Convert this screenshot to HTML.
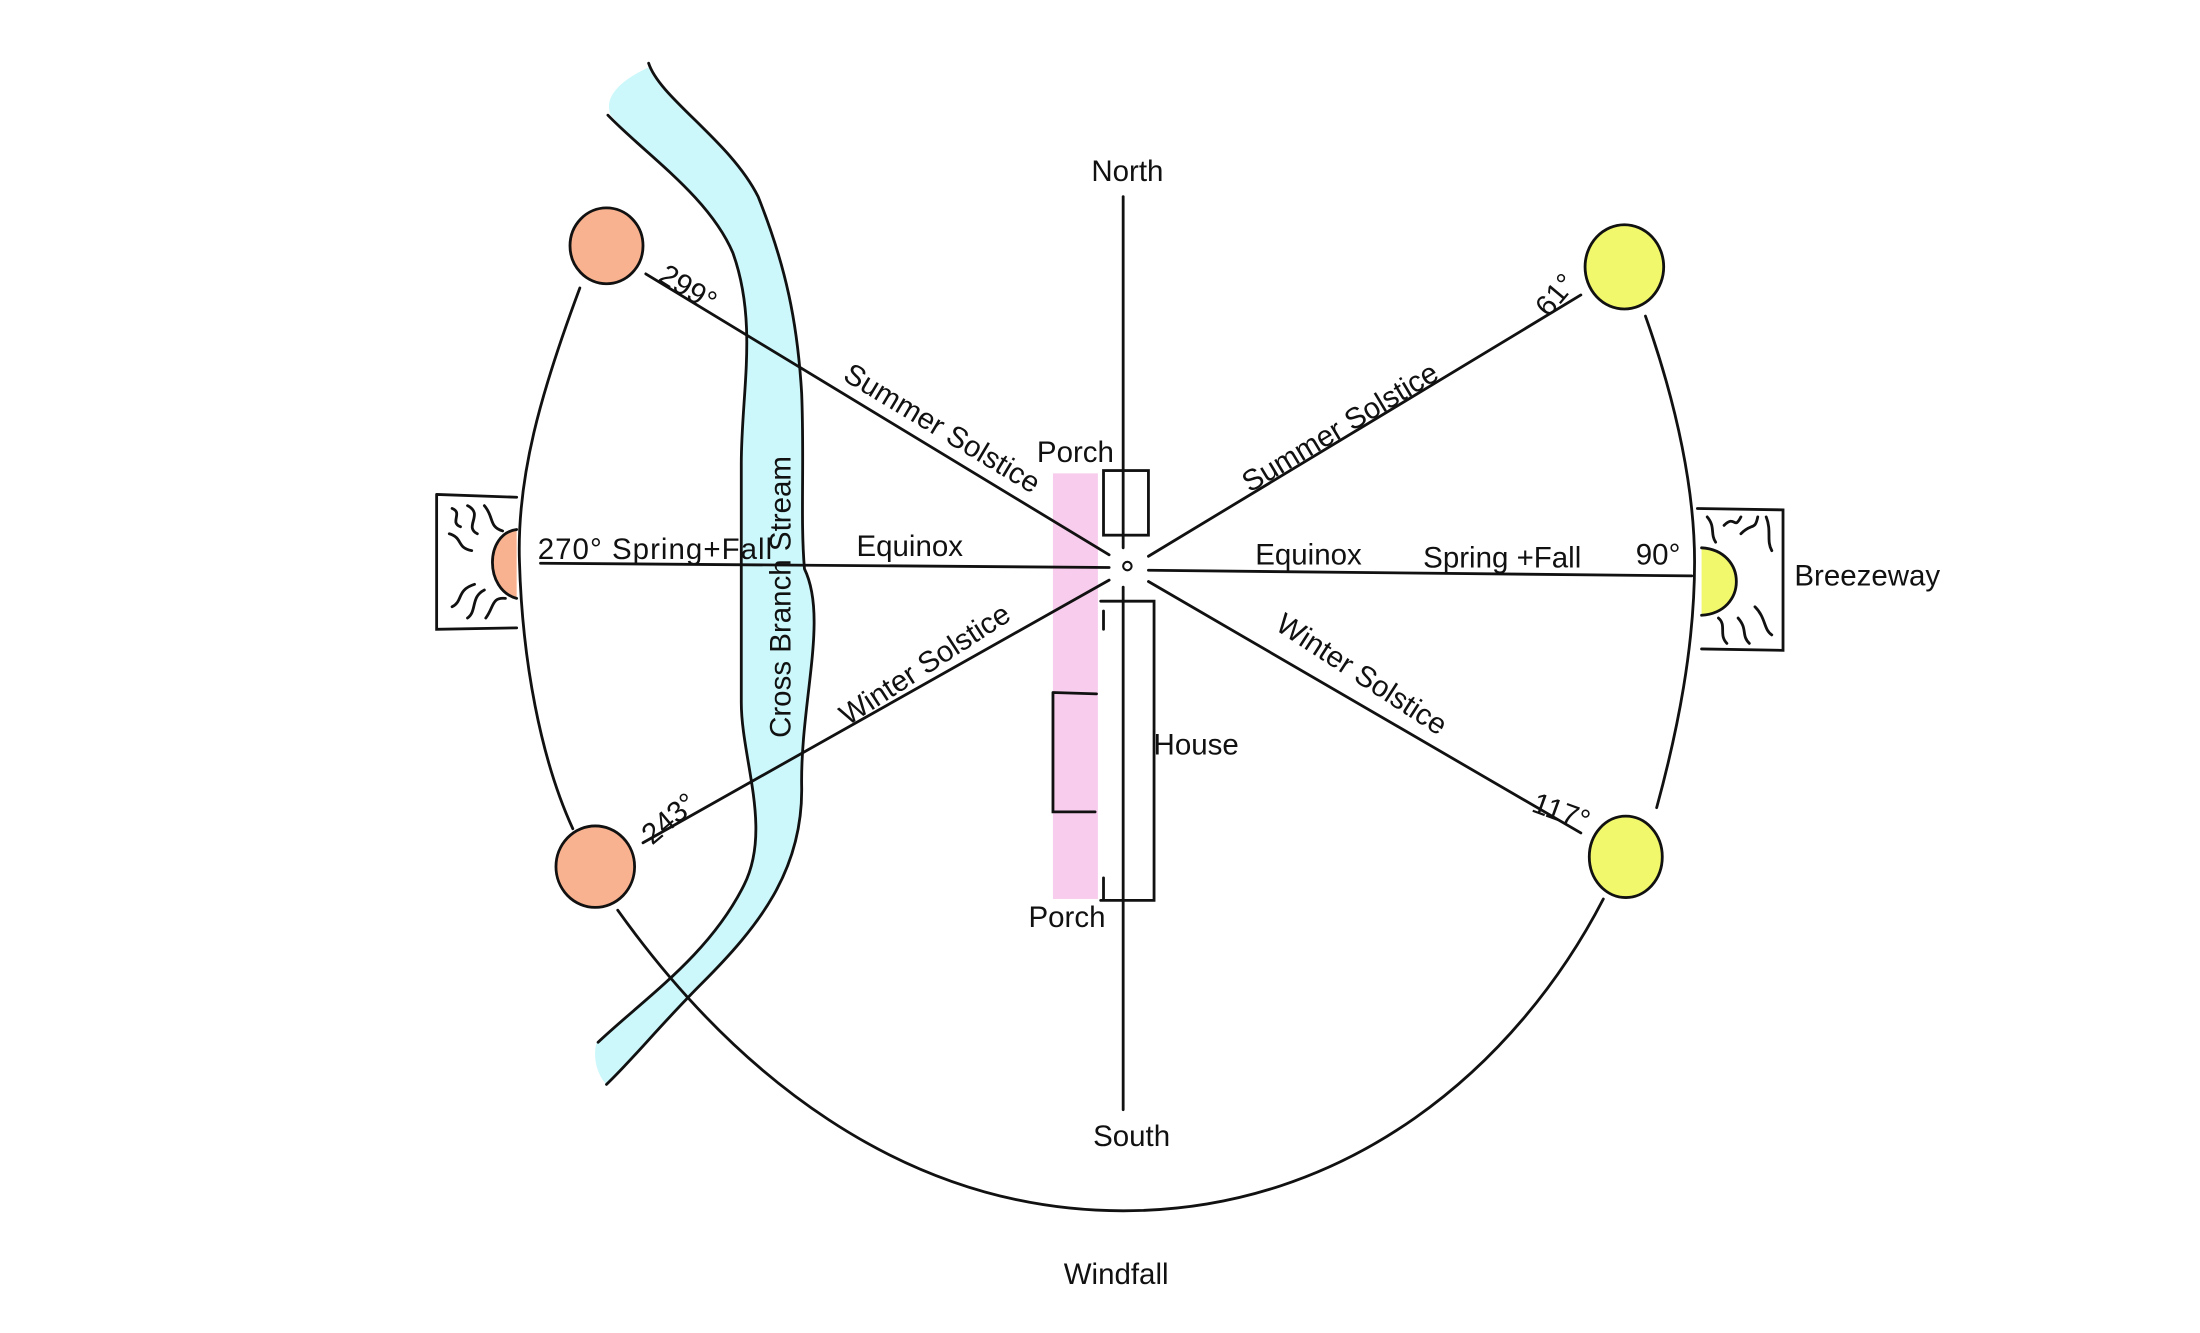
<!DOCTYPE html>
<html><head><meta charset="utf-8"><style>
html,body{margin:0;padding:0;background:#fff;width:2200px;height:1333px;overflow:hidden}
svg{display:block}
text{font-family:"Liberation Sans",sans-serif;fill:#111;font-size:21px}
</style></head><body>
<svg width="2200" height="1333" viewBox="0 0 1567 949" preserveAspectRatio="none">
<g fill="none" stroke="#111" stroke-width="2" stroke-linecap="round">
<!-- stream -->
<path d="M462,48 C470,70 520,100 540,140 C560,190 568,230 571,280 C573,330 570,370 573,405 C590,440 570,500 571,560 C572,620 540,660 500,700 C470,730 450,755 432,772 C425,765 422,752 425,742 C460,710 505,680 530,630 C550,590 528,540 528,500 C528,440 528,380 528,330 C528,280 540,230 522,180 C505,140 460,110 435,82 C430,70 440,58 462,48 Z" fill="#ccf8fb" stroke="none"/>
<path d="M462,45 C470,70 520,100 540,140 C560,190 568,230 571,280 C573,330 570,370 573,405 C590,440 570,500 571,560 C572,620 540,660 500,700 C470,730 450,755 432,772"/>
<path d="M433,82 C460,110 505,140 522,180 C540,230 528,280 528,330 C528,380 528,440 528,500 C528,540 550,590 530,630 C505,680 460,710 426,742"/>
<!-- pink -->
<rect x="750" y="337" width="32" height="303" fill="#f6c6ea" stroke="none" opacity="0.9"/>
<!-- north line -->
<line x1="800" y1="140" x2="800" y2="390"/>
<line x1="800" y1="418" x2="800" y2="790"/>
<circle cx="803" cy="403" r="3" stroke-width="1.5"/>
<!-- house -->
<rect x="786" y="335" width="32" height="46"/>
<path d="M784,428 L822,428 L822,641 L784,641 M786,435 L786,448 M786,625 L786,640"/>
<path d="M750,493 L781,494 M750,493 L750,578 L780,578"/>
<!-- rays -->
<line x1="460" y1="195" x2="790" y2="395"/>
<line x1="385" y1="401" x2="790" y2="404"/>
<line x1="458" y1="600" x2="790" y2="413"/>
<line x1="818" y1="396" x2="1126" y2="210"/>
<line x1="818" y1="406" x2="1205" y2="410"/>
<line x1="818" y1="414" x2="1126" y2="593"/>
<!-- arcs -->
<path d="M413,205 C385,280 368,340 370,400 C372,470 385,540 408,590"/>
<path d="M1172,225 C1195,290 1207,350 1207,400 C1207,460 1195,520 1180,575"/>
<path d="M440,648 C520,760 640,862 800,862 C960,862 1080,760 1142,640"/>
<!-- suns -->
<ellipse cx="432" cy="175" rx="26" ry="27" fill="#f9b28f"/>
<ellipse cx="424" cy="617" rx="28" ry="29" fill="#f9b28f"/>
<ellipse cx="1157" cy="190" rx="28" ry="30" fill="#f1f86b"/>
<ellipse cx="1158" cy="610" rx="26" ry="29" fill="#f1f86b"/>
<!-- left box -->
<path d="M311,352 L368,354 M311,352 L311,448 L368,447"/>
<path d="M368,377 C345,380 345,420 368,426" fill="#f9b28f"/>
<path d="M322,362 C330,365 320,372 328,375 M333,360 C345,366 330,375 340,380 M345,360 C352,368 348,375 358,378 M320,380 C330,383 325,390 336,392 M322,432 C330,428 325,420 338,416 M333,440 C340,435 335,425 345,420 M346,440 C352,432 350,425 360,426"/>
<!-- right box -->
<path d="M1209,362 L1270,363 L1270,463 L1212,462"/>
<path d="M1212,390 C1245,392 1245,436 1212,438" fill="#f1f86b"/>
<path d="M1216,368 C1222,375 1218,380 1222,386 M1228,374 C1236,366 1235,378 1240,368 M1240,380 C1248,372 1250,378 1252,368 M1258,368 C1262,378 1258,385 1262,392 M1224,440 C1230,445 1224,452 1230,458 M1238,440 C1245,448 1240,452 1246,458 M1250,432 C1258,440 1256,448 1262,452"/>
</g>
<!-- labels -->
<text x="803" y="129" text-anchor="middle">North</text>
<text x="806" y="816" text-anchor="middle">South</text>
<text x="795" y="914" text-anchor="middle" font-size="24">Windfall</text>
<text x="766" y="329" text-anchor="middle" font-size="16">Porch</text>
<text x="760" y="660" text-anchor="middle" font-size="16">Porch</text>
<text x="852" y="537" text-anchor="middle" font-size="16">House</text>
<text x="1330" y="417" text-anchor="middle">Breezeway</text>
<text x="490" y="212" transform="rotate(32 490 205)" text-anchor="middle">299°</text>
<text x="668" y="311" transform="rotate(31 668 310)" text-anchor="middle" font-size="22">Summer Solstice</text>
<text x="383" y="398" font-size="21" textLength="167">270° Spring+Fall</text>
<text x="648" y="396" text-anchor="middle">Equinox</text>
<text x="563" y="425" transform="rotate(-90 563 425)" text-anchor="middle" font-size="22">Cross Branch Stream</text>
<text x="662" y="479" transform="rotate(-33 662 478)" text-anchor="middle" font-size="22">Winter Solstice</text>
<text x="476" y="590" transform="rotate(-40 476 582)" text-anchor="middle">243°</text>
<text x="955" y="311" transform="rotate(-31 955 305)" text-anchor="middle" font-size="22">Summer Solstice</text>
<text x="1108" y="217" transform="rotate(-50 1108 210)" text-anchor="middle">61°</text>
<text x="932" y="402" text-anchor="middle">Equinox</text>
<text x="1070" y="404" text-anchor="middle">Spring +Fall</text>
<text x="1181" y="402" text-anchor="middle">90°</text>
<text x="970" y="487" transform="rotate(33 970 480)" text-anchor="middle" font-size="22">Winter Solstice</text>
<text x="1112" y="585" transform="rotate(20 1112 578)" text-anchor="middle">117°</text>
</svg>
</body></html>
